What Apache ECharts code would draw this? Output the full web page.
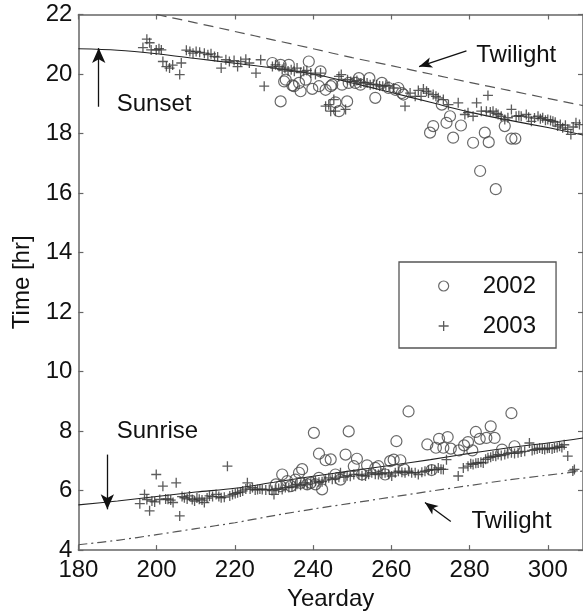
<!DOCTYPE html>
<html>
<head>
<meta charset="utf-8">
<title>Sunset and sunrise detection times</title>
<script src="https://cdn.jsdelivr.net/npm/echarts@6/dist/echarts.min.js"></script>
<style>
  html, body { margin: 0; padding: 0; background: #fff; }
  #chart { width: 583px; height: 616px; }
</style>
</head>
<body>
<div id="chart"></div>
<script>
// Astronomical reference curves, sampled every 10 yeardays (hours of day)
const curveDays    = [180, 190, 200, 210, 220, 230, 240, 250, 260, 270, 280, 290, 300, 309];
const sunsetCurve  = [20.85, 20.80, 20.68, 20.52, 20.36, 20.20, 20.00, 19.70, 19.38, 19.05, 18.72, 18.45, 18.20, 17.95];
const duskTwilight = [22.55, 22.28, 22.00, 21.72, 21.43, 21.14, 20.85, 20.55, 20.28, 20.00, 19.72, 19.45, 19.18, 18.94];
const sunriseCurve = [5.52, 5.65, 5.80, 5.95, 6.08, 6.28, 6.48, 6.67, 6.85, 7.04, 7.25, 7.44, 7.60, 7.77];
const dawnTwilight = [4.18, 4.33, 4.52, 4.72, 4.92, 5.16, 5.38, 5.58, 5.78, 5.98, 6.17, 6.36, 6.52, 6.66];

// Observed sunset / sunrise times, [yearday, hour]
const sunset2002 = [
  [229.6,20.37],[231.7,20.31],[233.8,20.31],[231.7,19.08],[232.6,19.75],[233.0,19.81],[234.7,19.62],
  [235.1,19.59],[236.4,19.70],[236.8,19.42],[238.1,19.81],[238.9,20.42],[239.8,19.50],[241.5,19.59],
  [241.9,20.09],[243.2,19.47],[244.5,19.59],[244.9,19.64],[245.7,19.05],[246.6,18.75],[247.4,19.64],
  [248.7,19.08],[249.1,19.70],[250.8,19.70],[251.7,19.86],[252.1,19.64],[254.4,19.86],[255.9,19.20],
  [257.6,19.70],[259.3,19.53],[261.0,19.47],[261.8,19.53],[262.7,19.36],[263.1,19.31],[269.9,18.03],
  [270.7,18.25],[272.9,18.97],[274.1,18.36],[275.0,18.58],[275.8,17.86],[277.8,18.27],[280.9,17.69],
  [282.7,16.74],[283.9,18.03],[284.9,17.71],[286.7,16.13],[289.0,18.25],[290.7,17.83],[291.7,17.83]
];
const sunset2003 = [
  [196.5,20.89],[197.5,21.17],[198.2,21.05],[198.6,20.81],[199.9,20.81],[200.6,20.85],[201.2,20.81],
  [201.6,20.42],[202.5,20.25],[203.3,20.20],[204.1,20.30],[205.9,19.98],[206.3,20.37],[207.6,20.80],
  [208.5,20.76],[209.3,20.70],[210.1,20.76],[211.0,20.73],[212.2,20.70],[213.1,20.65],[213.9,20.68],
  [214.8,20.59],[215.6,20.57],[216.5,20.20],[217.7,20.48],[218.6,20.42],[219.8,20.45],[220.7,20.25],
  [221.5,20.42],[222.8,20.50],[223.7,20.37],[225.4,20.03],[226.6,20.48],[227.5,19.59],[229.6,20.25],
  [230.4,20.31],[231.3,20.25],[232.1,20.15],[232.8,20.20],[233.6,20.10],[234.4,20.14],[235.2,20.09],
  [235.9,20.20],[236.8,20.05],[237.6,20.09],[238.4,20.12],[239.4,20.03],[240.6,19.98],[241.9,20.03],
  [243.2,18.92],[244.0,18.97],[244.5,18.75],[245.3,19.14],[245.7,18.75],[246.6,19.92],[247.2,19.98],
  [248.3,18.81],[248.8,19.81],[249.6,19.75],[250.5,19.75],[251.2,19.78],[252.2,19.70],[253.0,19.72],
  [253.8,19.70],[254.6,19.64],[255.4,19.66],[256.2,19.64],[257.0,19.60],[257.8,19.59],[258.6,19.62],
  [259.4,19.59],[260.6,19.53],[263.5,18.92],[264.8,19.36],[266.1,19.25],[266.9,19.45],[267.6,19.25],
  [268.2,19.50],[269.0,19.42],[269.5,19.36],[270.7,19.31],[271.4,19.25],[272.0,19.20],[273.3,19.14],
  [274.6,18.97],[277.1,19.03],[278.8,18.64],[279.6,18.70],[280.9,18.58],[281.8,19.03],[283.0,18.75],
  [284.3,18.75],[284.7,19.28],[285.3,18.72],[286.0,18.75],[286.8,18.68],[287.3,18.64],[288.1,18.58],
  [289.0,18.47],[289.8,18.53],[290.7,18.81],[291.9,18.58],[292.6,18.60],[293.2,18.58],[294.5,18.64],
  [295.1,18.55],[295.8,18.41],[296.6,18.52],[297.5,18.58],[298.1,18.50],[298.7,18.53],[299.4,18.45],
  [300.0,18.47],[300.7,18.44],[301.3,18.41],[301.9,18.38],[302.5,18.25],[303.2,18.30],[303.8,18.19],
  [304.5,18.28],[305.1,18.14],[305.9,17.97],[306.5,18.22],[307.2,18.36],[308.1,18.30]
];
const sunrise2002 = [
  [230.5,6.21],[231.7,6.15],[232.1,6.54],[233.4,6.32],[234.3,6.15],[235.5,6.37],[236.4,6.60],
  [236.8,6.26],[237.2,6.72],[238.5,6.21],[239.4,6.26],[240.2,7.94],[240.6,6.21],[241.5,6.43],
  [241.5,7.24],[242.3,6.04],[243.2,7.02],[244.5,7.05],[245.7,6.54],[247.0,6.37],[248.3,7.21],
  [249.1,7.99],[250.4,6.82],[251.2,7.07],[252.5,6.54],[253.8,6.85],[255.9,6.76],[256.7,6.82],
  [258.4,6.54],[259.7,6.99],[260.6,7.04],[261.3,7.66],[262.3,7.02],[263.3,6.71],[264.4,8.66],
  [269.2,7.55],[270.3,6.69],[271.4,7.44],[272.2,7.74],[273.3,7.44],[274.4,7.80],[275.2,7.41],
  [277.3,7.35],[278.6,7.52],[279.6,7.63],[280.7,7.35],[281.6,7.97],[282.6,7.74],[284.3,7.77],
  [285.4,8.16],[286.4,7.77],[288.3,7.38],[290.7,8.60],[291.5,7.49]
];
const sunrise2003 = [
  [195.7,5.56],[196.9,5.87],[197.5,5.70],[198.2,5.32],[198.8,5.65],[199.5,5.62],[199.9,6.54],
  [200.8,5.70],[201.6,6.15],[202.3,5.72],[202.9,5.71],[203.6,5.68],[204.2,5.60],[205.0,6.26],
  [205.9,5.15],[206.5,5.80],[207.1,5.76],[207.8,5.72],[208.4,5.82],[209.1,5.70],[209.7,5.65],
  [210.3,5.75],[210.9,5.71],[211.6,5.68],[212.2,5.60],[212.9,5.75],[213.5,5.82],[214.3,5.80],
  [215.2,5.87],[215.9,5.80],[216.5,5.76],[217.3,5.78],[218.1,6.82],[218.7,5.82],[219.4,5.87],
  [220.1,5.90],[220.7,5.93],[221.4,5.95],[222.0,5.99],[222.8,6.05],[223.2,6.26],[223.9,6.05],
  [224.5,6.10],[225.2,6.02],[225.8,6.04],[226.4,6.05],[227.0,6.04],[227.9,6.02],[228.8,6.04],
  [229.5,6.00],[230.0,5.87],[230.5,6.04],[231.2,6.07],[232.1,6.04],[232.9,6.10],[233.8,6.10],
  [234.6,6.12],[235.5,6.15],[235.9,6.21],[236.8,6.18],[237.7,6.26],[238.5,6.20],[239.4,6.25],
  [240.6,6.32],[241.5,6.28],[242.3,6.30],[243.2,6.35],[244.0,6.43],[244.9,6.38],[245.7,6.40],
  [246.6,6.45],[247.0,6.60],[247.9,6.45],[248.7,6.50],[249.5,6.48],[250.4,6.54],[251.7,6.54],
  [252.5,6.50],[253.4,6.49],[254.2,6.55],[255.0,6.60],[255.9,6.55],[256.7,6.54],[257.6,6.58],
  [258.4,6.60],[259.3,6.55],[260.1,6.49],[261.0,6.60],[261.8,6.65],[262.7,6.62],[263.5,6.60],
  [264.4,6.65],[265.2,6.60],[266.1,6.60],[266.9,6.54],[267.8,6.62],[268.6,6.65],[269.5,6.68],
  [270.3,6.71],[271.1,6.70],[272.0,6.76],[272.7,6.72],[273.3,6.71],[274.1,7.04],[277.1,6.49],
  [278.4,6.76],[279.6,6.82],[280.3,6.90],[280.9,6.88],[281.6,6.92],[282.2,6.93],[282.9,6.95],
  [283.5,6.93],[284.1,7.05],[284.7,7.10],[285.4,7.12],[286.0,7.16],[286.7,7.15],[287.3,7.21],
  [288.1,7.18],[289.0,7.21],[289.8,7.25],[290.7,7.27],[291.5,7.25],[292.4,7.27],[293.2,7.30],
  [294.1,7.32],[295.3,7.60],[296.0,7.35],[296.6,7.38],[297.3,7.40],[297.9,7.43],[298.6,7.40],
  [299.2,7.38],[299.9,7.42],[300.4,7.43],[301.1,7.40],[301.7,7.43],[302.4,7.45],[303.0,7.49],
  [303.6,7.45],[304.2,7.54],[305.1,7.16],[306.4,6.66],[306.8,6.71]
];

// Annotation arrows [from, to] and text anchors, in data coordinates
const arrowSunset  = [[185.2, 18.90], [185.2, 20.87]];
const arrowSunrise = [[187.4, 7.21], [187.4, 5.37]];
const arrowDusk    = [[279.2, 20.78], [267.1, 20.25]];
const arrowDawn    = [[275.2, 4.96], [268.6, 5.60]];
const annotationText = [
  { text: 'Sunset',   at: [189.8, 18.97] },
  { text: 'Sunrise',  at: [189.8, 8.00] },
  { text: 'Twilight', at: [281.7, 20.61] },
  { text: 'Twilight', at: [280.5, 4.96] }
];

const FONT = '"Liberation Sans", Arial, Helvetica, sans-serif';
const INK = '#111';
const AXIS = '#666';
const PLUS = 'path://M0 5L10 5M5 0L5 10';

const pairs = (xs, ys) => xs.map((x, i) => [x, ys[i]]);

const axisCommon = {
  type: 'value',
  axisLine: { show: true, onZero: false, lineStyle: { color: AXIS, width: 1.5 } },
  axisTick: { show: true, inside: true, length: 5, lineStyle: { color: AXIS, width: 1.2 } },
  splitLine: { show: false }
};

const curveLine = (name, data, color, width, type, extra) => Object.assign({
  name, type: 'line', data, symbol: 'none', smooth: 0.3, silent: true, z: 3,
  lineStyle: { color, width, type }
}, extra || {});

const plusStyle   = { color: 'rgba(0,0,0,0)', borderColor: '#333', borderWidth: 1.3 };
const circleStyle = { color: 'rgba(0,0,0,0)', borderColor: '#444', borderWidth: 1.2 };

const chart = echarts.init(document.getElementById('chart'), null, { renderer: 'canvas' });

const option = {
  animation: false,
  backgroundColor: '#fff',
  textStyle: { fontFamily: FONT },
  grid: { left: 78.4, top: 14.5, right: -2, bottom: 63 },
  xAxis: [
    Object.assign({}, axisCommon, {
      position: 'bottom', min: 180, max: 309, interval: 20,
      name: 'Yearday', nameLocation: 'middle', nameGap: 30,
      nameTextStyle: { fontSize: 24, color: INK, fontFamily: FONT },
      axisLabel: { fontSize: 24, color: INK, margin: 8, showMaxLabel: false, fontFamily: FONT }
    }),
    Object.assign({}, axisCommon, {
      position: 'top', min: 180, max: 309, interval: 20,
      axisLabel: { show: false }
    })
  ],
  yAxis: [
    Object.assign({}, axisCommon, {
      position: 'left', min: 4, max: 22, interval: 2,
      name: 'Time [hr]', nameLocation: 'middle', nameGap: 44,
      nameTextStyle: { fontSize: 24, color: INK, fontFamily: FONT },
      axisLabel: { fontSize: 24, color: INK, margin: 6, fontFamily: FONT }
    }),
    Object.assign({}, axisCommon, {
      position: 'right', min: 4, max: 22, interval: 2,
      axisLabel: { show: false }
    })
  ],
  legend: {
    orient: 'vertical', left: 399, top: 262,
    itemWidth: 10, itemHeight: 10, itemGap: 16,
    padding: [12, 20, 10, 39],
    borderColor: '#555', borderWidth: 1.3, backgroundColor: '#fff',
    selectedMode: false,
    textStyle: { fontSize: 24, color: INK, fontFamily: FONT, padding: [0, 0, 0, 29] },
    data: [
      { name: '2002', icon: 'circle', itemStyle: circleStyle },
      { name: '2003', icon: PLUS, itemStyle: plusStyle }
    ]
  },
  series: [
    curveLine('Sunset', pairs(curveDays, sunsetCurve), '#222', 1.1, 'solid', {
      markLine: {
        silent: true,
        symbol: ['none', 'arrow'],
        symbolSize: [10, 15],
        label: { show: false },
        lineStyle: { color: '#111', width: 1.3, type: 'solid' },
        emphasis: { disabled: true },
        data: [
          [{ coord: arrowSunset[0] }, { coord: arrowSunset[1] }],
          [{ coord: arrowSunrise[0] }, { coord: arrowSunrise[1] }],
          [{ coord: arrowDusk[0] }, { coord: arrowDusk[1], symbolSize: [8, 13] }],
          [{ coord: arrowDawn[0] }, { coord: arrowDawn[1], symbolSize: [8, 13] }]
        ]
      }
    }),
    curveLine('Dusk twilight', pairs(curveDays, duskTwilight), '#555', 1.2, [10, 6]),
    curveLine('Sunrise', pairs(curveDays, sunriseCurve), '#222', 1.1, 'solid'),
    curveLine('Dawn twilight', pairs(curveDays, dawnTwilight), '#555', 1.2, [9, 4, 2, 4]),
    { name: '2003', type: 'scatter', data: sunset2003, symbol: PLUS, symbolSize: 10, itemStyle: plusStyle, z: 4, silent: true },
    { name: '2003', type: 'scatter', data: sunrise2003, symbol: PLUS, symbolSize: 10, itemStyle: plusStyle, z: 4, silent: true },
    { name: '2002', type: 'scatter', data: sunset2002, symbol: 'circle', symbolSize: 11, itemStyle: circleStyle, z: 5, silent: true },
    { name: '2002', type: 'scatter', data: sunrise2002, symbol: 'circle', symbolSize: 11, itemStyle: circleStyle, z: 5, silent: true }
  ]
};

chart.setOption(option);

// Place the annotation words next to their arrows
chart.setOption({
  graphic: annotationText.map(a => {
    const p = chart.convertToPixel({ gridIndex: 0 }, a.at);
    return {
      type: 'text', x: p[0], y: p[1], z: 10, silent: true,
      style: { text: a.text, fontSize: 24, fontFamily: FONT, fill: INK, align: 'left', verticalAlign: 'middle' }
    };
  })
});
</script>
</body>
</html>
